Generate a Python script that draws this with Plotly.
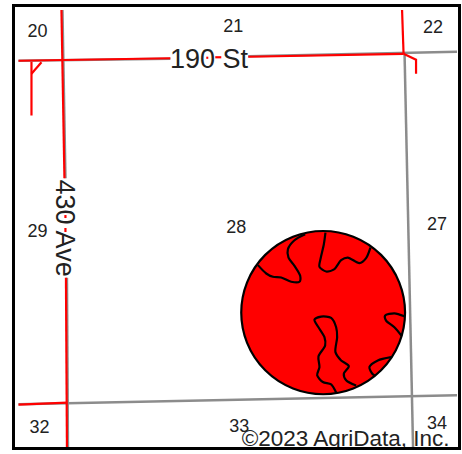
import plotly.graph_objects as go

# Window and map frame, in reference pixels
WIDTH, HEIGHT = 462, 454
FRAME_L, FRAME_R, FRAME_T, FRAME_B = 14.5, 458, 5, 447

# Roads
gray_roads = [
    ([18, 170], [59, 57]),
    ([248, 457], [54.5, 50]),
    ([62, 65], [8, 177]),
    ([66.5, 67.5], [277, 447]),
    ([404.5, 413], [52, 447]),
    ([18, 457], [404, 395]),
]
red_roads = [
    ([18, 170], [59, 56.5]),
    ([248, 403.5], [55, 52]),
    ([61, 64], [8, 177]),
    ([65.5, 66.5], [277, 447]),
    ([18, 67], [404.5, 402.5]),
    ([402, 403.5], [8, 52]),
    ([403.5, 413, 416, 416], [52, 56, 58, 72]),
    ([31, 31], [60, 114]),
    ([31, 41], [72, 60.5]),
    ([206, 208], [56, 56]),
    ([215, 221], [55.5, 55.5]),
    ([65, 65], [214, 217]),
    ([65, 65], [227, 231]),
]

# Field
FIELD_CX, FIELD_CY, FIELD_R = 323, 312, 82
soil_lines = [
    ([257.7, 266, 272.7, 281, 291, 299.3, 300, 294.3, 288.3, 287.7, 294.3, 305],
     [264.3, 272.7, 276, 276.7, 281, 281, 275, 265, 256.7, 248.3, 239.3, 233.3]),
    ([325.3, 323.7, 320.3, 319.3, 326, 334.3, 341, 347.7, 359.3, 366, 370.3],
     [231.7, 243.3, 258.3, 266, 270.7, 268.3, 259.3, 256.7, 262.3, 257.3, 246.7]),
    ([356, 346, 343.7, 348.7, 341, 335.3, 337, 336, 331, 321, 314.3, 318.3, 324.3, 325, 318.3, 319.3, 317, 322.7, 331, 336],
     [385.3, 380, 373.3, 365.7, 360, 351.7, 336.7, 326.7, 317.3, 316, 319, 326.7, 336.7, 345, 356, 366.7, 375, 381.7, 384, 392.3]),
    ([404.3, 394.3, 385, 386, 394.3, 401.3],
     [315.7, 312.7, 315, 320, 326.7, 335]),
    ([391, 377.7, 369.3, 372.7, 375],
     [356.7, 360, 366.7, 374, 375.5]),
]

# Section numbers
section_labels = ["20", "21", "22", "29", "28", "27", "32", "33", "34"]
section_x = [37, 233, 433, 37, 236, 437, 39, 239, 437]
section_y = [31, 26, 27, 232, 228, 224, 428, 427, 424]

# Road names and credit
FONT = "Liberation Sans, Arial, sans-serif"
INK = "#222222"
CREDIT = "©2023 AgriData, Inc."

fig = go.Figure()

for xs, ys in gray_roads:
    fig.add_trace(go.Scatter(x=xs, y=ys, mode="lines", hoverinfo="skip",
                             line=dict(color="#8c8c8c", width=2.5)))
for xs, ys in red_roads:
    fig.add_trace(go.Scatter(x=xs, y=ys, mode="lines", hoverinfo="skip",
                             line=dict(color="#ff0000", width=2.2)))
for xs, ys in soil_lines:
    fig.add_trace(go.Scatter(x=xs, y=ys, mode="lines", hoverinfo="skip",
                             line=dict(color="#000000", width=2.2, shape="spline", smoothing=0.8)))

fig.add_shape(type="circle", layer="between",
              x0=FIELD_CX - FIELD_R, x1=FIELD_CX + FIELD_R,
              y0=FIELD_CY - FIELD_R, y1=FIELD_CY + FIELD_R,
              fillcolor="#ff0000", line=dict(color="#000000", width=2.2))

fig.add_trace(go.Scatter(x=section_x, y=section_y, mode="text", text=section_labels,
                         textposition="middle center", hoverinfo="skip",
                         textfont=dict(family=FONT, size=18, color=INK)))
# Credit goes through a clipped text trace: the frame cuts its descender
fig.add_trace(go.Scatter(x=[345.5], y=[440], mode="text", text=[CREDIT],
                         textposition="middle center", hoverinfo="skip", cliponaxis=True,
                         textfont=dict(family=FONT, size=22.5, color=INK)))

fig.add_annotation(x=209, y=57, text="190 St", showarrow=False, xref="x", yref="y",
                   font=dict(family=FONT, size=27, color=INK))
fig.add_annotation(x=65, y=227, text="430 Ave", showarrow=False, xref="x", yref="y",
                   textangle=90, font=dict(family=FONT, size=27, color=INK))

axis_common = dict(showgrid=False, zeroline=False, showticklabels=False, ticks="",
                   showline=True, mirror=True, linecolor="#000000", linewidth=3)
fig.update_xaxes(range=[FRAME_L, FRAME_R], **axis_common)
fig.update_yaxes(range=[FRAME_B, FRAME_T], **axis_common)

fig.update_layout(
    width=WIDTH + 3, height=HEIGHT, showlegend=False,
    paper_bgcolor="#ffffff", plot_bgcolor="#ffffff",
    margin=dict(l=FRAME_L, r=WIDTH - FRAME_R, t=FRAME_T, b=HEIGHT - FRAME_B, pad=0),
)

fig.write_html("out.html", config={"displayModeBar": False},
               post_script="document.body.style.margin='0';document.body.style.overflow='hidden';")
